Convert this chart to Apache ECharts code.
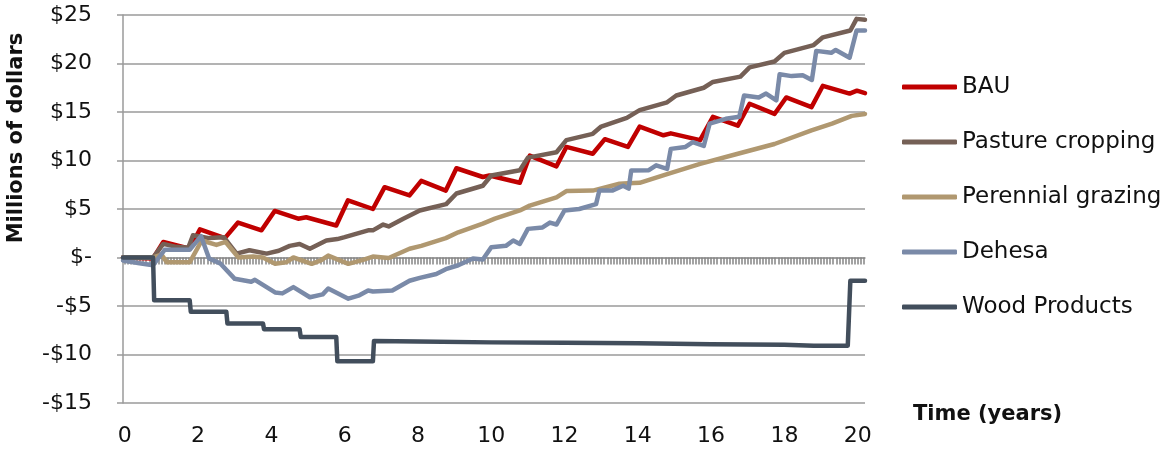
<!DOCTYPE html>
<html>
<head>
<meta charset="utf-8">
<script src="https://cdn.jsdelivr.net/npm/echarts@6/dist/echarts.min.js"></script>
<style>
html,body{margin:0;padding:0;background:#fff;}
#chart{width:1165px;height:450px;}
</style>
</head>
<body>
<div id="chart"></div>
<script>
// ---- data (time in years, value in millions of dollars) ----
const seriesNames = ['BAU', 'Pasture cropping', 'Perennial grazing', 'Dehesa', 'Wood Products'];
const xTickLabels = [0, 2, 4, 6, 8, 10, 12, 14, 16, 18, 20];
const yTickLabels = ['-$15', '-$10', '-$5', '$-', '$5', '$10', '$15', '$20', '$25'];

const bau = [[-0.05,0],[0.77,-0.1],[1.05,1.6],[1.77,0.9],[2.05,2.9],[2.73,2.0],[3.09,3.6],[3.73,2.8],[4.09,4.8],[4.73,4.0],[4.95,4.15],[5.77,3.3],[6.09,5.9],[6.77,5.0],[7.09,7.25],[7.77,6.4],[8.09,7.9],[8.76,6.9],[9.05,9.2],[9.77,8.3],[9.95,8.45],[10.78,7.7],[11.05,10.5],[11.78,9.4],[12.05,11.4],[12.77,10.7],[13.1,12.2],[13.73,11.4],[14.05,13.5],[14.7,12.6],[14.9,12.8],[15.7,12.1],[16.05,14.5],[16.73,13.6],[17.05,15.85],[17.73,14.8],[18.05,16.5],[18.74,15.5],[19.05,17.7],[19.78,16.9],[19.98,17.2],[20.2,16.95]];

const pasture = [[-0.05,0],[0.77,0],[1.05,1.4],[1.4,1.1],[1.73,1.0],[1.86,2.3],[2.3,2.0],[2.7,2.1],[3.05,0.4],[3.4,0.75],[3.87,0.4],[4.2,0.7],[4.5,1.2],[4.77,1.4],[5.05,0.9],[5.5,1.75],[5.8,1.9],[6.0,2.1],[6.64,2.8],[6.77,2.8],[7.05,3.4],[7.2,3.2],[7.6,4.0],[8.05,4.85],[8.77,5.5],[9.05,6.6],[9.77,7.4],[10.0,8.45],[10.78,9.0],[11.0,10.3],[11.78,10.85],[12.05,12.1],[12.77,12.75],[13.0,13.5],[13.7,14.4],[14.05,15.2],[14.8,16.0],[15.05,16.7],[15.8,17.5],[16.05,18.1],[16.8,18.65],[17.05,19.6],[17.73,20.2],[18.0,21.1],[18.8,21.9],[19.05,22.7],[19.8,23.4],[19.97,24.6],[20.2,24.5]];

const perennial = [[-0.05,0],[0.77,0],[1.0,0.3],[1.15,-0.5],[1.77,-0.5],[2.1,1.75],[2.5,1.3],[2.75,1.6],[3.1,0.0],[3.5,0.1],[3.77,0.0],[4.1,-0.65],[4.4,-0.5],[4.6,0.0],[5.1,-0.65],[5.35,-0.3],[5.55,0.2],[6.1,-0.65],[6.5,-0.25],[6.77,0.1],[7.2,-0.05],[7.77,0.9],[8.09,1.2],[8.76,2.0],[9.1,2.6],[9.77,3.5],[10.1,4.0],[10.78,4.85],[11.05,5.35],[11.78,6.2],[12.05,6.85],[12.77,6.9],[13.5,7.6],[13.73,7.66],[14.05,7.7],[14.8,8.6],[15.7,9.65],[16.73,10.7],[17.73,11.7],[18.74,13.1],[19.3,13.8],[19.84,14.6],[20.2,14.8]];

const dehesa = [[-0.05,-0.3],[0.4,-0.6],[0.77,-0.8],[1.09,0.8],[1.77,0.8],[2.08,2.2],[2.3,-0.1],[2.6,-0.6],[3.0,-2.2],[3.3,-2.4],[3.45,-2.5],[3.55,-2.3],[4.1,-3.6],[4.3,-3.7],[4.6,-3.05],[5.05,-4.1],[5.4,-3.8],[5.55,-3.2],[6.1,-4.25],[6.4,-3.9],[6.64,-3.4],[6.77,-3.5],[7.3,-3.4],[7.77,-2.4],[8.05,-2.1],[8.5,-1.7],[8.76,-1.2],[9.1,-0.8],[9.5,-0.1],[9.77,-0.2],[10.0,1.06],[10.4,1.2],[10.6,1.75],[10.78,1.4],[11.0,2.95],[11.4,3.1],[11.6,3.6],[11.78,3.4],[12.0,4.85],[12.4,5.0],[12.86,5.5],[12.95,6.9],[13.3,6.9],[13.6,7.4],[13.75,7.1],[13.82,8.97],[14.3,9.0],[14.5,9.5],[14.8,9.14],[14.9,11.2],[15.3,11.4],[15.5,11.9],[15.8,11.5],[15.96,13.8],[16.4,14.3],[16.77,14.5],[16.9,16.7],[17.3,16.5],[17.5,16.9],[17.78,16.2],[17.87,18.9],[18.2,18.7],[18.5,18.8],[18.75,18.3],[18.87,21.3],[19.28,21.1],[19.4,21.4],[19.78,20.6],[19.97,23.4],[20.2,23.4]];

const wood = [[-0.05,0],[0.77,0],[0.8,-4.4],[1.77,-4.4],[1.8,-5.6],[2.77,-5.6],[2.8,-6.8],[3.77,-6.8],[3.8,-7.4],[4.77,-7.4],[4.8,-8.2],[5.77,-8.2],[5.8,-10.7],[6.77,-10.7],[6.8,-8.6],[8,-8.65],[10,-8.75],[12,-8.8],[14,-8.85],[16,-8.95],[18,-9.0],[18.8,-9.1],[19.73,-9.1],[19.8,-2.4],[20.2,-2.4]];

const seriesData = [bau, pasture, perennial, dehesa, wood];
const colors = ['#C00000', '#756056', '#B09870', '#7A8AA8', '#424E5C'];

// monthly tick positions along the zero line (axis decoration)
const monthTicks = [];
for (let m = 0; m <= 242; m++) monthTicks.push(+(m / 12).toFixed(4));

const FONT = 'DejaVu Sans';
const chart = echarts.init(document.getElementById('chart'), null, {renderer: 'canvas'});

chart.setOption({
  animation: false,
  color: colors,
  grid: {left: 123, right: 300, top: 15, bottom: 47, containLabel: false},
  legend: {
    orient: 'vertical',
    left: 902,
    top: 75,
    padding: 0,
    itemWidth: 55,
    itemHeight: 5,
    itemGap: 31,
    icon: 'roundRect',
    textStyle: {fontFamily: FONT, fontSize: 23, color: '#111', lineHeight: 24},
    data: seriesNames
  },
  xAxis: [
    {
      type: 'value', min: -0.05, max: 20.2, position: 'bottom',
      axisLine: {show: false, onZero: false},
      axisTick: {show: false},
      splitLine: {show: false},
      axisLabel: {customValues: xTickLabels, fontFamily: FONT, fontSize: 22, color: '#111', margin: 22}
    },
    {
      type: 'value', min: -0.05, max: 20.2, position: 'top',
      axisLine: {show: true, onZero: true, lineStyle: {color: '#9a9a9a', width: 1.5}},
      axisTick: {show: true, inside: true, customValues: monthTicks, length: 7, lineStyle: {color: '#858585', width: 1.5}},
      splitLine: {show: false},
      axisLabel: {show: false}
    }
  ],
  yAxis: {
    type: 'value', min: -15, max: 25, interval: 5,
    axisLine: {show: true, onZero: false, lineStyle: {color: '#9a9a9a', width: 1.5}},
    axisTick: {show: true, length: 6, lineStyle: {color: '#9a9a9a', width: 1.5}},
    splitLine: {show: true, lineStyle: {color: '#9a9a9a', width: 1.5}},
    axisLabel: {
      fontFamily: FONT, fontSize: 22, color: '#111', margin: 31,
      formatter: function (v) { return yTickLabels[Math.round((v + 15) / 5)]; }
    }
  },
  graphic: [
    {type: 'text', x: 17, y: 138, rotation: Math.PI / 2,
     style: {text: 'Millions of dollars', font: 'bold 21px "DejaVu Sans"', fill: '#111', align: 'center', verticalAlign: 'middle'}},
    {type: 'text', x: 913, y: 415,
     style: {text: 'Time (years)', font: 'bold 21px "DejaVu Sans"', fill: '#111', align: 'left', verticalAlign: 'middle'}}
  ],
  series: seriesNames.map(function (name, i) {
    return {
      name: name, type: 'line', xAxisIndex: 0, data: seriesData[i], z: 3,
      showSymbol: false, symbol: 'none',
      lineStyle: {width: 4.5, color: colors[i], cap: 'round', join: 'round'},
      itemStyle: {color: colors[i]}
    };
  })
});
</script>
</body>
</html>
